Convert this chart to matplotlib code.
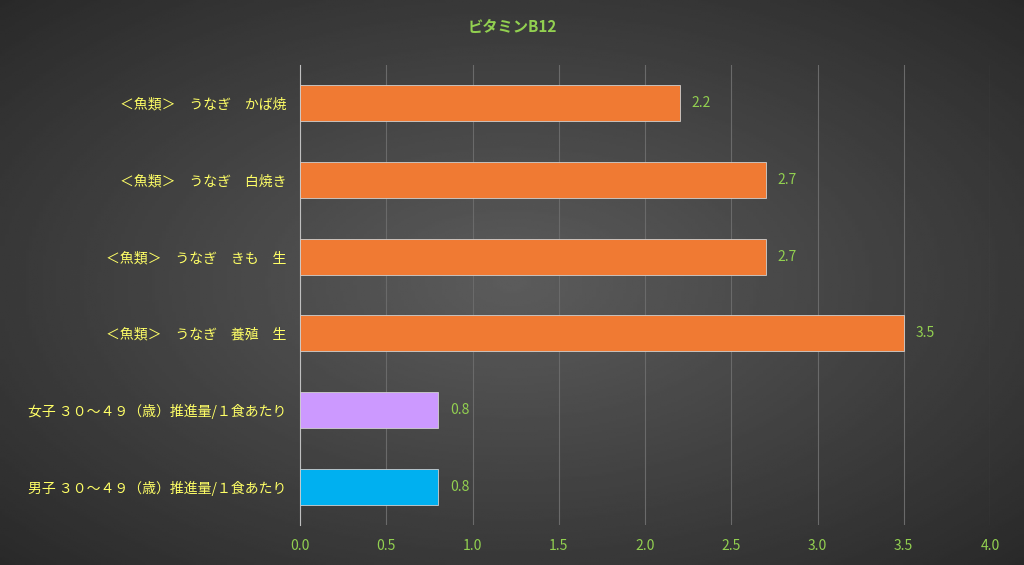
import numpy as np
import matplotlib
matplotlib.use("Agg")
from matplotlib import pyplot as plt

plt.rcParams['font.family'] = ['Noto Sans CJK JP', 'DejaVu Sans']

# データ(上から順)
labels = ['＜魚類＞　うなぎ　かば焼', '＜魚類＞　うなぎ　白焼き', '＜魚類＞　うなぎ　きも　生',
          '＜魚類＞　うなぎ　養殖　生', '女子 ３０～４９（歳）推進量/１食あたり', '男子 ３０～４９（歳）推進量/１食あたり']
values = [2.2, 2.7, 2.7, 3.5, 0.8, 0.8]
colors = ['#f07a33', '#f07a33', '#f07a33', '#f07a33', '#cc99ff', '#00b0f0']
xticks = [0.0, 0.5, 1.0, 1.5, 2.0, 2.5, 3.0, 3.5, 4.0]

fig = plt.figure(figsize=(10.24, 5.65), dpi=100)

# 背景のグラデーション
bg = fig.add_axes([0, 0, 1, 1])
yy, xx = np.mgrid[-1:1:300j, -1:1:300j]
r = np.sqrt(xx**2 + yy**2)
bg.imshow(0.36 - 0.14 * r, cmap='gray', vmin=0, vmax=1, aspect='auto', extent=[0, 1, 0, 1])
bg.axis('off')

ax = fig.add_axes([300 / 1024, 1 - 525 / 565, 690 / 1024, (525 - 65) / 565])
ax.patch.set_alpha(0)
y = np.arange(len(values))[::-1]
ax.barh(y, values, height=0.47, color=colors, edgecolor='#d0d0d0', linewidth=0.6, zorder=3)
for yi, v in zip(y, values):
    ax.text(v + 0.07, yi, f'{v:.1f}', color='#92d050', va='center', fontsize=10)

ax.set_xlim(0, 4)
ax.set_ylim(-0.5, len(values) - 0.5)
ax.set_xticks(xticks)
ax.set_xticklabels([f'{t:.1f}' for t in xticks], color='#92d050', fontsize=10)
ax.set_yticks(y)
ax.set_yticklabels(labels, color='#ffff66', fontsize=10)
ax.tick_params(length=0, pad=10)
ax.grid(axis='x', color='#6a6a6a', linewidth=0.8, zorder=0)
for s in ['top', 'right', 'bottom']:
    ax.spines[s].set_visible(False)
ax.spines['left'].set_color('#bfbfbf')

fig.text(0.5, 1 - 27 / 565, 'ビタミンB12', color='#92d050', fontsize=11, fontweight='bold',
         ha='center', va='center')

fig.savefig('out.png', dpi=100)
